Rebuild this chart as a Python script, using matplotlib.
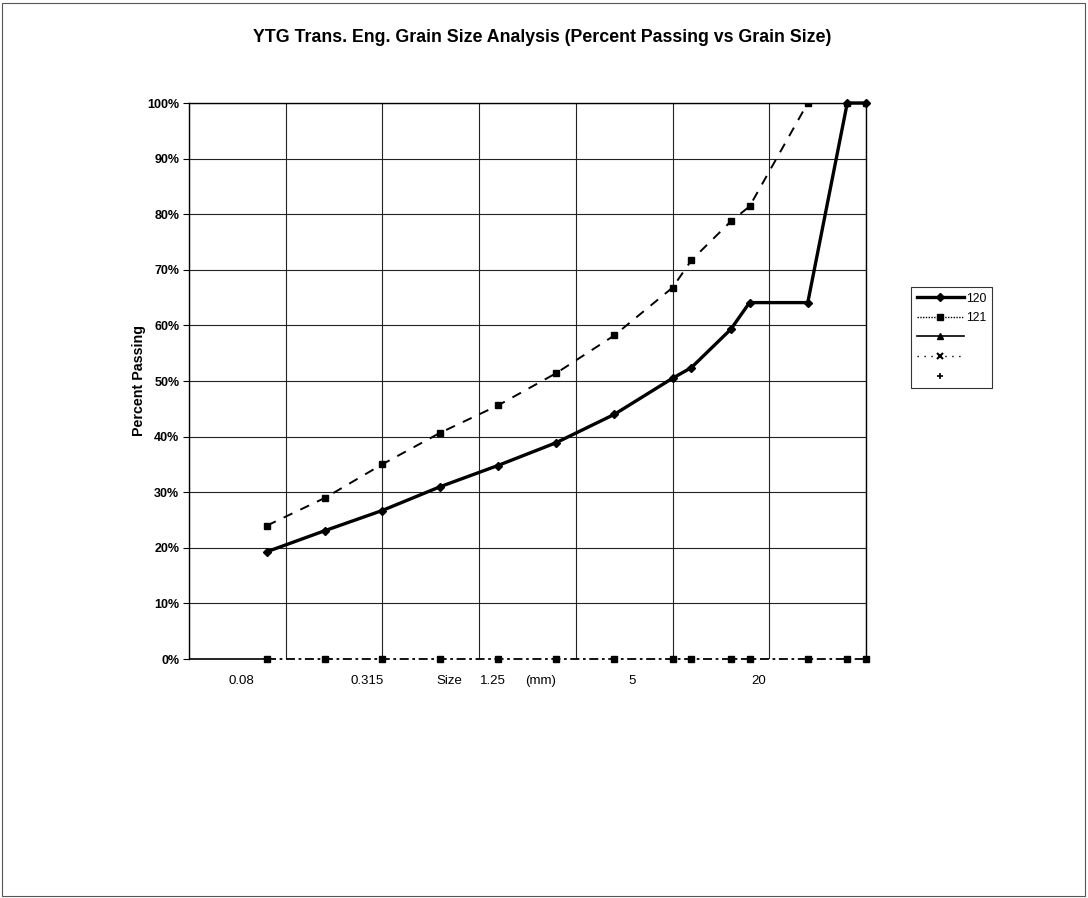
import matplotlib
matplotlib.use("Agg")
import matplotlib.pyplot as plt
from matplotlib.lines import Line2D
from matplotlib.patches import Rectangle
from matplotlib.ticker import FixedLocator, NullFormatter, NullLocator

plt.rcParams["font.family"] = ["Liberation Sans", "DejaVu Sans"]

# sieve sizes (mm) and percent passing
SIZES = [0.08, 0.16, 0.315, 0.63, 1.25, 2.5, 5, 10, 12.5, 20, 25, 50, 80, 100]
PASS_120 = [19.3, 23.1, 26.7, 31.0, 34.8, 38.9, 44.0, 50.5, 52.4, 59.3, 64.1, 64.1, 100, 100]
PASS_121 = [24.0, 29.0, 35.0, 40.7, 45.6, 51.4, 58.2, 66.8, 71.7, 78.7, 81.4, 100, 100, 100]
PASS_EMPTY = [0] * len(SIZES)

# x labels as printed under the axis (axes-fraction x, text)
XLABELS = [(0.077, "0.08"), (0.263, "0.315"), (0.385, "Size"), (0.449, "1.25"),
           (0.520, "(mm)"), (0.654, "5"), (0.841, "20")]
YTICKS = list(range(0, 101, 10))
XMIN, XMAX = 10 ** -1.5, 100

fig = plt.figure(figsize=(10.88, 8.98), dpi=100)
fig.patch.set_facecolor("white")
ax = fig.add_axes([189 / 1088, 1 - 659 / 898, 677 / 1088, 556 / 898])

ax.set_xscale("log")
ax.set_xlim(XMIN, XMAX)
ax.set_ylim(0, 100)

ax.xaxis.set_major_locator(FixedLocator([10 ** (e / 2) for e in range(-3, 5)]))
ax.xaxis.set_minor_locator(NullLocator())
ax.xaxis.set_major_formatter(NullFormatter())
ax.tick_params(axis="x", length=0)
ax.set_yticks(YTICKS)
ax.set_yticklabels([f"{v}%" for v in YTICKS], fontsize=9, fontweight="bold")
ax.tick_params(axis="y", direction="out", length=4, width=0.8, pad=3)
ax.grid(True, color="#222222", linewidth=0.8)
ax.set_axisbelow(True)
for sp in ax.spines.values():
    sp.set_color("black")
    sp.set_linewidth(1.0)
# the 0% baseline is drawn by the empty series itself
ax.spines["bottom"].set_visible(False)
ax.yaxis.get_gridlines()[0].set_visible(False)
ax.hlines(0, XMIN, SIZES[0], color="black", linewidth=1.2, clip_on=False)

# zero-level (empty) series
ax.plot(SIZES, PASS_EMPTY, color="black", linestyle=(0, (5, 2, 1.5, 2)), linewidth=1.3,
        marker="s", markersize=4.5, clip_on=False, zorder=3)
ax.plot(SIZES, PASS_121, color="black", linestyle=(0, (5, 4.5)), linewidth=1.4,
        marker="s", markersize=5, zorder=4)
ax.plot(SIZES, PASS_120, color="black", linestyle="-", linewidth=2.4,
        marker="D", markersize=4, clip_on=False, zorder=5)

for xf, txt in XLABELS:
    ax.text(xf, -0.04, txt, transform=ax.transAxes, ha="center", va="center", fontsize=9.5)

ax.set_ylabel("Percent Passing", fontsize=10.3, fontweight="bold", labelpad=1)

fig.text(542 / 1088, 1 - 38 / 898,
         "YTG Trans. Eng. Grain Size Analysis (Percent Passing vs Grain Size)",
         ha="center", va="center", fontsize=12.8, fontweight="bold")

handles = [
    Line2D([], [], color="black", lw=2.4, marker="D", markersize=4),
    Line2D([], [], color="black", lw=1.0, ls=(0, (1, 1)), marker="s", markersize=4.5),
    Line2D([], [], color="black", lw=1.2, marker="^", markersize=4.5),
    Line2D([], [], color="black", lw=1.0, ls=(0, (1, 4)), marker="x", markersize=4.5, mew=1.5),
    Line2D([], [], color="black", lw=0, marker="+", markersize=4.5, mew=1.2),
]
leg = fig.legend(handles, ["120", "121", "", "", ""], loc="upper left",
                 bbox_to_anchor=(911 / 1088, 1 - 287 / 898), bbox_transform=fig.transFigure,
                 borderaxespad=0, fontsize=8.8, frameon=True, fancybox=False,
                 handlelength=3.9, handletextpad=0.2, labelspacing=0.62,
                 borderpad=0.45)
leg.get_frame().set_edgecolor("black")
leg.get_frame().set_linewidth(0.8)

fig.add_artist(Rectangle((0.002, 0.002), 0.995, 0.995, transform=fig.transFigure,
                         fill=False, edgecolor="#555555", linewidth=0.8))

fig.savefig("out.png", dpi=100, facecolor="white")
